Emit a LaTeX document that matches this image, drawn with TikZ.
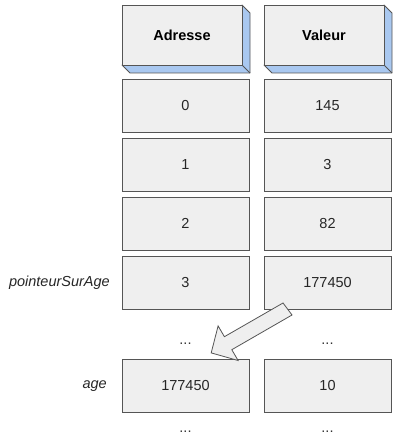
\documentclass[tikz,border=0pt]{standalone}
\usepackage{fontspec}
\setmainfont{Liberation Sans}
\definecolor{cellfill}{HTML}{EFEFEF}
\definecolor{cellline}{HTML}{555555}
\definecolor{depthblue}{HTML}{A9C8F0}
\begin{document}
\begin{tikzpicture}[x=1pt,y=-1pt,
  cell/.style={draw=cellline,fill=cellfill,line width=0.8pt,minimum width=127pt,minimum height=53pt,inner sep=0pt,font=\fontsize{14.5}{17}\selectfont,text=black!85},
  front/.style={draw=cellline,fill=cellfill,line width=0.8pt,minimum width=120pt,minimum height=60pt,inner sep=0pt,font=\bfseries\fontsize{14.5}{17}\selectfont},
  lbl/.style={anchor=east,inner sep=0pt,font=\itshape\fontsize{14.5}{17}\selectfont,text=black!85},
  dots/.style={anchor=base,inner sep=0pt,font=\fontsize{14.5}{17}\selectfont,text=black!80}]
\useasboundingbox (0,0) rectangle (397,435);
% headers (3D)
\foreach \x/\n/\t in {122/hA/Adresse,264/hV/Valeur}{
  \fill[depthblue,draw=cellline,line width=0.8pt,line join=round]
    (\x+120,5) -- (\x+128,13) -- (\x+128,73) -- (\x+8,73) -- (\x,65) -- (\x+120,65) -- cycle;
  \draw[cellline,line width=0.8pt] (\x+120,65) -- (\x+128,73);
  \node[front] (\n) at (\x+60,35) {\t};
}
% rows
\node[cell] (a0) at (185.5,105.5) {0};
\node[cell] (v0) at (327.5,105.5) {145};
\node[cell] (a1) at (185.5,164.5) {1};
\node[cell] (v1) at (327.5,164.5) {3};
\node[cell] (a2) at (185.5,223.5) {2};
\node[cell] (v2) at (327.5,223.5) {82};
\node[cell] (a3) at (185.5,283) {3};
\node[cell] (v3) at (327.5,283) {177450};
\node[cell] (a4) at (185.5,386) {177450};
\node[cell] (v4) at (327.5,386) {10};
% dots
\node[dots] (d1) at (185.5,344) {...};
\node[dots] (d2) at (327.5,344) {...};
\node[dots] (d3) at (185.5,432) {...};
\node[dots] (d4) at (327.5,432) {...};
% labels
\node[lbl] (lp) at (110,283) {pointeurSurAge};
\node[lbl] (la) at (107,386) {age};
% block arrow
\draw[cellline,fill=cellfill,line width=0.8pt,line join=miter]
  (283,303) -- (224.4,336.7) -- (218.1,325.9) -- (211.2,352.9) -- (238.1,360.5) -- (231.8,349.7) -- (292,315) -- cycle;
\end{tikzpicture}
\end{document}
